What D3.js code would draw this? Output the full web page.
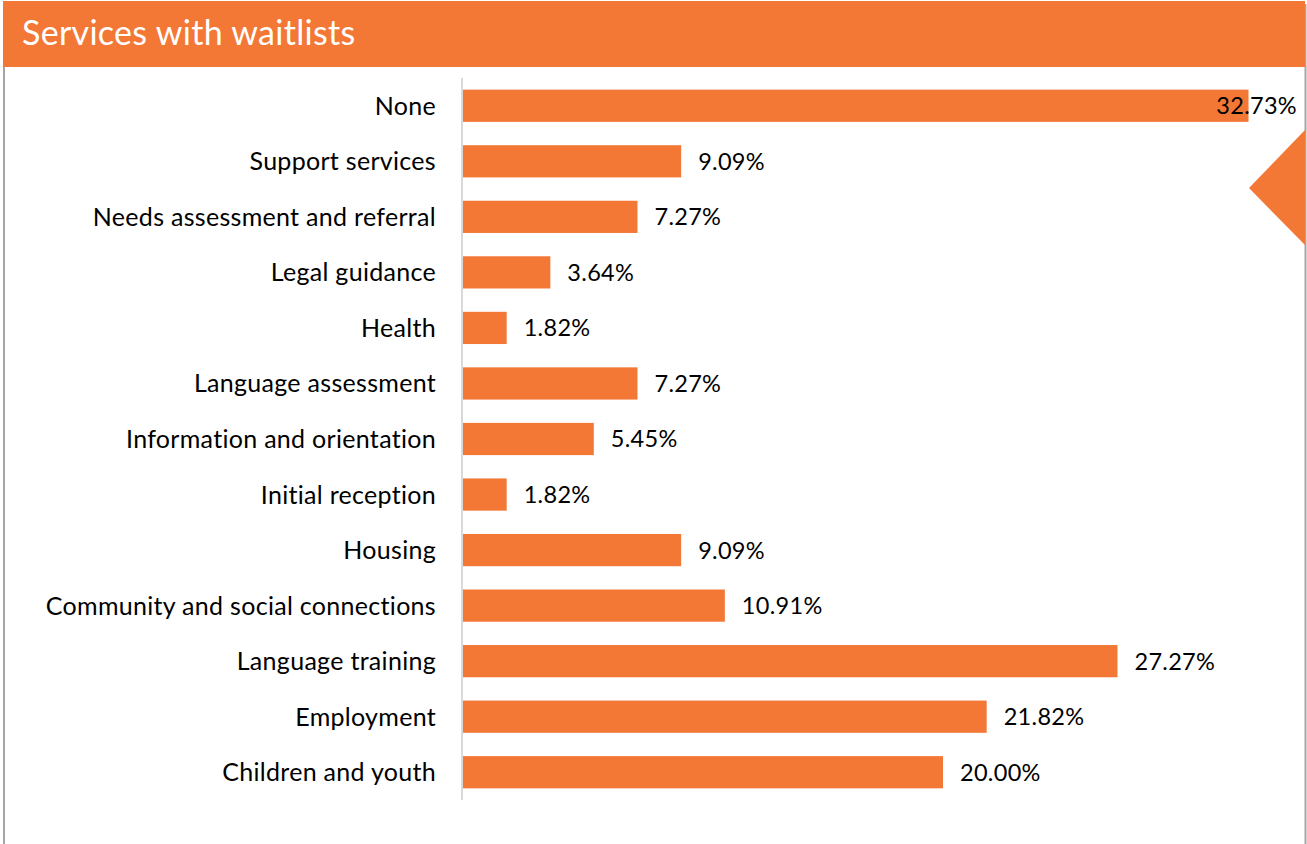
<!DOCTYPE html>
<html>
<head>
<meta charset="utf-8">
<script src="https://cdn.jsdelivr.net/npm/d3@7"></script>
<style>
  body { margin: 0; background: #fff; }
  svg { display: block; font-family: Lato, "Open Sans", sans-serif; }
</style>
</head>
<body>
<svg id="chart" width="1307" height="844"></svg>
<script>
const categories = [
  'None',
  'Support services',
  'Needs assessment and referral',
  'Legal guidance',
  'Health',
  'Language assessment',
  'Information and orientation',
  'Initial reception',
  'Housing',
  'Community and social connections',
  'Language training',
  'Employment',
  'Children and youth'
];
const shares = [0.3273, 0.0909, 0.0727, 0.0364, 0.0182, 0.0727, 0.0545, 0.0182, 0.0909, 0.1091, 0.2727, 0.2182, 0.2000];
const title = 'Services with waitlists';

const ORANGE = '#f37735';

var svg = d3.select('#chart'),
  width = +svg.attr('width'),
  height = +svg.attr('height');

// frame borders
svg.append('line')
  .attr('x1', 4).attr('x2', 4).attr('y1', 60).attr('y2', height)
  .attr('stroke', '#a6a6a6').attr('stroke-width', 2);
svg.append('line')
  .attr('x1', 1305.5).attr('x2', 1305.5).attr('y1', 4).attr('y2', height)
  .attr('stroke', '#a6a6a6').attr('stroke-width', 2);

// header band
svg.append('rect')
  .attr('x', 3).attr('y', 1)
  .attr('width', 1302).attr('height', 66)
  .attr('fill', ORANGE);
svg.append('text')
  .attr('x', 22).attr('y', 45)
  .attr('fill', '#fff')
  .style('font-size', '34px')
  .style('letter-spacing', '0.3px')
  .text(title);

// decorative arrow on the right edge
svg.append('path')
  .attr('d', 'M1305,130 L1249,188 L1305,245 Z')
  .attr('fill', ORANGE);

var x = d3.scaleLinear().domain([0, 0.35]).range([463, 1303]);
var y = d3.scaleBand().domain(categories).range([78, 800]).paddingInner(0.42).paddingOuter(0.21);

svg.append('line')
  .attr('x1', 462).attr('x2', 462).attr('y1', 78).attr('y2', 800)
  .attr('stroke', '#d9d9d9').attr('stroke-width', 2);

svg.selectAll('rect.bar')
  .data(categories)
  .enter()
  .append('rect')
  .attr('class', 'bar')
  .attr('x', x(0))
  .attr('y', d => y(d))
  .attr('width', (d, i) => x(shares[i]) - x(0))
  .attr('height', y.bandwidth())
  .attr('fill', ORANGE);

svg.selectAll('text.cat')
  .data(categories)
  .enter()
  .append('text')
  .attr('class', 'cat')
  .attr('x', 436)
  .attr('y', d => y(d) + y.bandwidth() / 2)
  .attr('dy', '0.36em')
  .attr('text-anchor', 'end')
  .attr('fill', '#000')
  .style('font-size', '25px')
  .style('letter-spacing', '0.3px')
  .text(d => d);

var fmt = d3.format('.2%');
svg.selectAll('text.val')
  .data(categories)
  .enter()
  .append('text')
  .attr('class', 'val')
  .attr('y', d => y(d) + y.bandwidth() / 2)
  .attr('dy', '0.36em')
  .attr('fill', '#000')
  .style('font-size', '23.5px')
  .style('letter-spacing', '0.3px')
  .text((d, i) => fmt(shares[i]))
  .attr('x', function (d, i) {
    let w = this.getComputedTextLength();
    return Math.min(x(shares[i]) + 17, 1297 - w);
  });
</script>
</body>
</html>
